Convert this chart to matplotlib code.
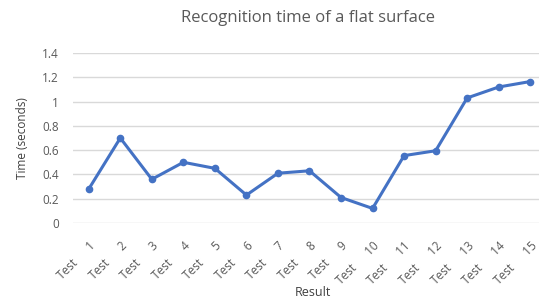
import matplotlib.pyplot as plt

# values
tests = [str(i) for i in range(1, 16)]
times = [0.28, 0.70, 0.36, 0.50, 0.45, 0.23, 0.41, 0.43,
         0.21, 0.12, 0.555, 0.595, 1.03, 1.12, 1.165]
yticks = [0, 0.2, 0.4, 0.6, 0.8, 1.0, 1.2, 1.4]
ytick_labels = ["0", "0.2", "0.4", "0.6", "0.8", "1", "1.2", "1.4"]

plt.rcParams['font.family'] = ['Open Sans', 'DejaVu Sans']

fig = plt.figure(figsize=(5.39, 2.98), dpi=100)
ax = fig.add_axes([73 / 539, 75 / 298, 473 / 539, 170 / 298])

x = list(range(len(tests)))
ax.plot(x, times, color='#4472C4', linewidth=2.2, marker='o',
        markersize=4.5, solid_joinstyle='round')

ax.set_xlim(-0.5, len(tests) - 0.5)
ax.set_ylim(0, 1.4)
ax.set_yticks(yticks)
ax.set_yticklabels(ytick_labels)
ax.set_xticks(x)
ax.set_xticklabels(["Test" + " " * 6 + t for t in tests], rotation=45,
                   ha='right', va='top', rotation_mode='anchor')

ax.grid(axis='y', color='#d9d9d9', linewidth=1)
ax.set_axisbelow(True)
for s in ax.spines.values():
    s.set_visible(False)
ax.tick_params(axis='both', length=0, labelsize=8.5, labelcolor='#595959')
ax.tick_params(axis='y', pad=10)
ax.tick_params(axis='x', pad=11.5)

ax.set_ylabel("Time (seconds)", fontsize=8.5, color='#404040')
ax.set_xlabel("Result", fontsize=9, color='#404040')
ax.yaxis.set_label_coords((22 - 73) / 473, 0.5)
ax.yaxis.label.set_va('center')
ax.xaxis.set_label_coords((313 - 73) / 473, (223 - 293) / 170)
ax.xaxis.label.set_va('center')
fig.text(308 / 539, 1 - 18 / 298, "Recognition time of a flat surface",
         ha='center', va='center', fontsize=12, color='#595959')

fig.savefig("out.png", dpi=100)
